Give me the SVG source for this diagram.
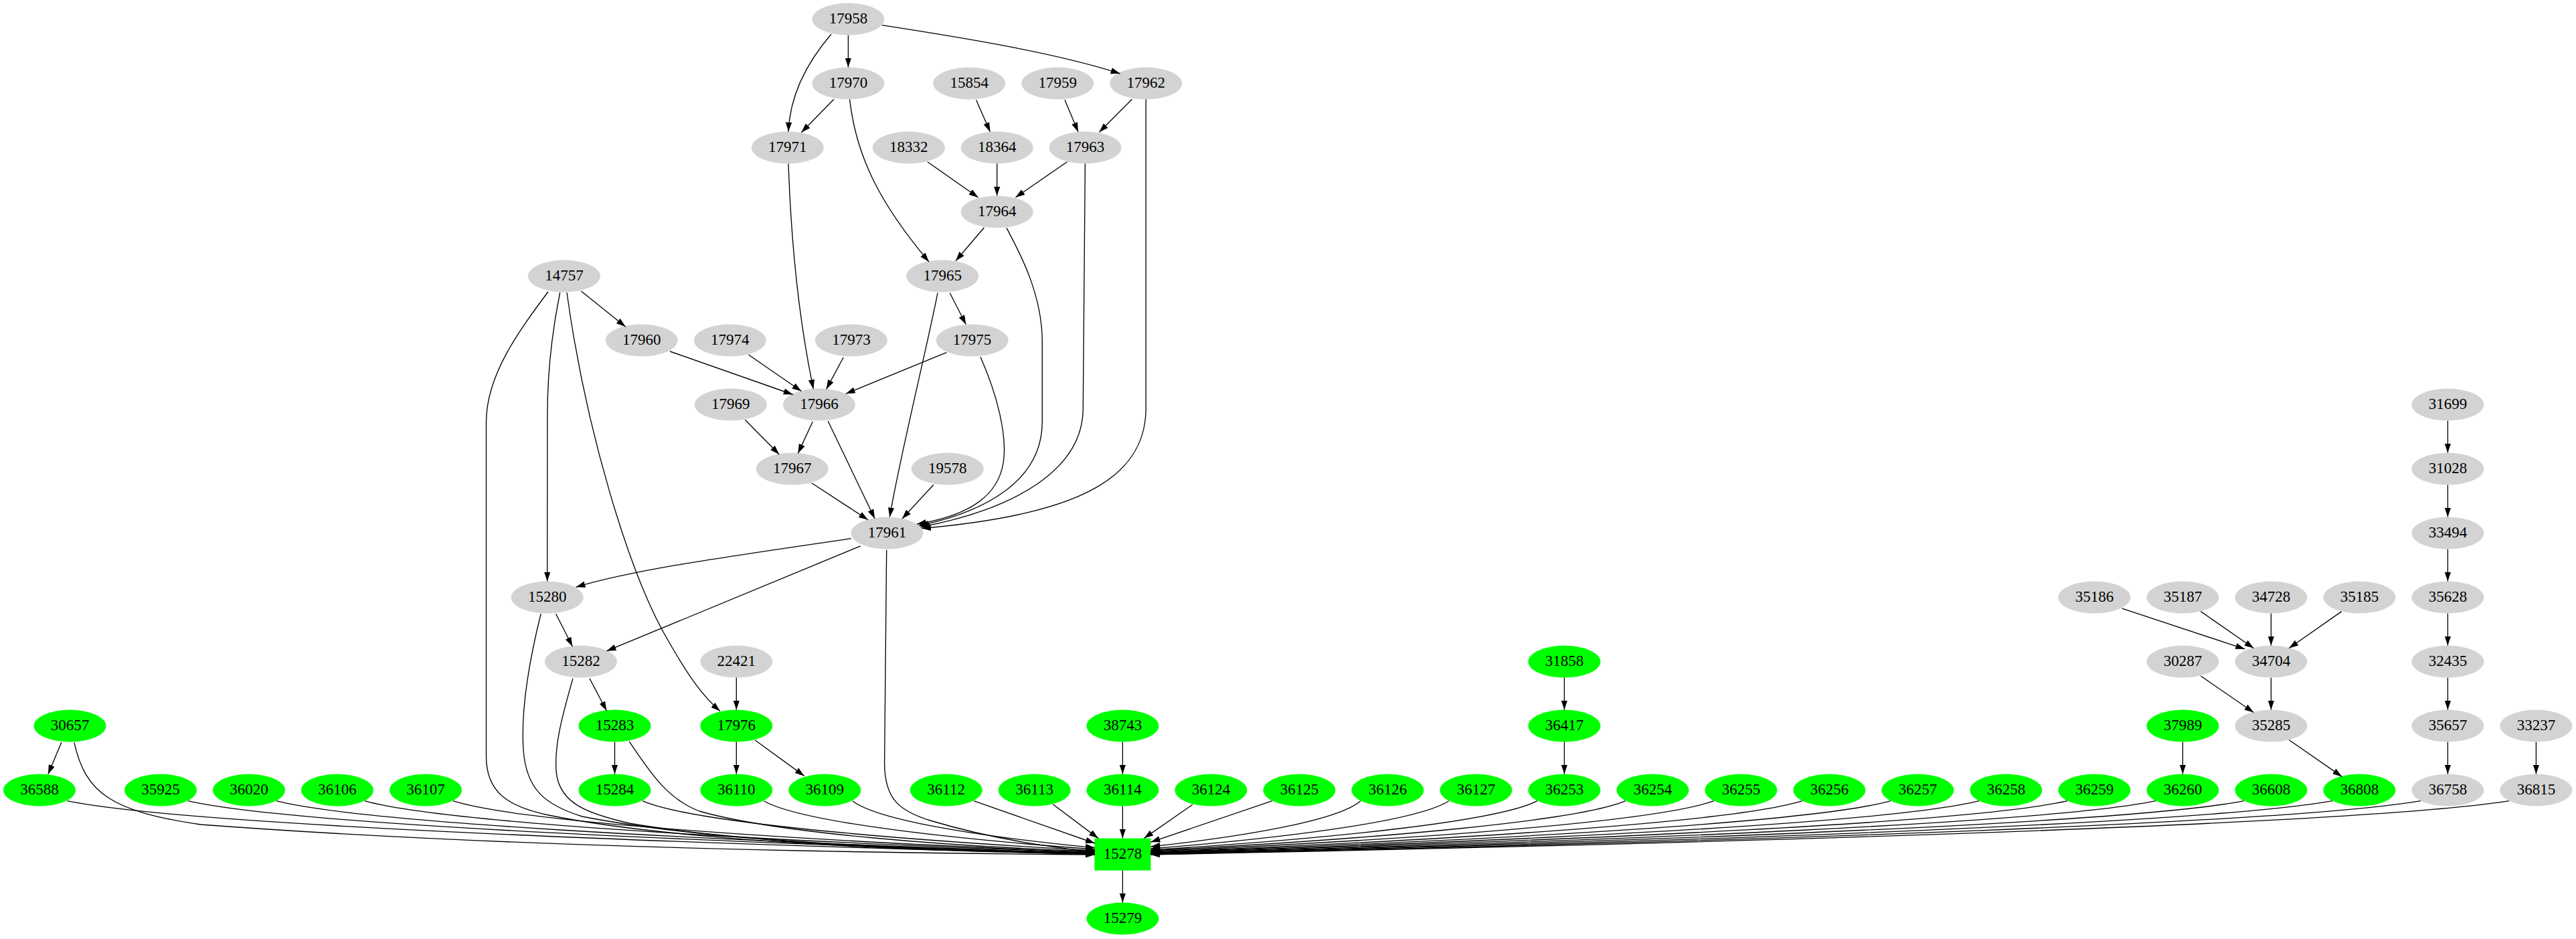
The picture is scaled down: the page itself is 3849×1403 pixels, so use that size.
<svg xmlns="http://www.w3.org/2000/svg" width="3849" height="1403" viewBox="0 0 3849 1403">
<style>
.g{fill:#d3d3d3}
.gr{fill:#00ff00}
text{font-family:"Liberation Serif","Times New Roman",serif;font-size:23px;text-anchor:middle;fill:#000}
.e{fill:none;stroke:#000;stroke-width:1.33;marker-end:url(#a)}
</style>
<defs>
<marker id="a" markerUnits="userSpaceOnUse" markerWidth="14" markerHeight="10" refX="14" refY="5" orient="auto" viewBox="0 0 14 10"><path d="M0,0.3 L14,5 L0,9.7 z" fill="#000"/></marker>
</defs>
<rect x="0" y="0" width="3849" height="1403" fill="#fff"/>
<g id="nodes">
<g id="n17958"><ellipse class="g" cx="1267.4" cy="28.6" rx="54" ry="24"/><text x="1267.4" y="35.1">17958</text></g>
<g id="n17970"><ellipse class="g" cx="1267.4" cy="124.6" rx="54" ry="24"/><text x="1267.4" y="131.1">17970</text></g>
<g id="n15854"><ellipse class="g" cx="1448.2" cy="124.6" rx="54" ry="24"/><text x="1448.2" y="131.1">15854</text></g>
<g id="n17959"><ellipse class="g" cx="1580.2" cy="124.6" rx="54" ry="24"/><text x="1580.2" y="131.1">17959</text></g>
<g id="n17962"><ellipse class="g" cx="1712.2" cy="124.6" rx="54" ry="24"/><text x="1712.2" y="131.1">17962</text></g>
<g id="n17971"><ellipse class="g" cx="1176.8" cy="220.6" rx="54" ry="24"/><text x="1176.8" y="227.1">17971</text></g>
<g id="n18332"><ellipse class="g" cx="1357.8" cy="220.6" rx="54" ry="24"/><text x="1357.8" y="227.1">18332</text></g>
<g id="n18364"><ellipse class="g" cx="1489.7" cy="220.6" rx="54" ry="24"/><text x="1489.7" y="227.1">18364</text></g>
<g id="n17963"><ellipse class="g" cx="1621.6" cy="220.6" rx="54" ry="24"/><text x="1621.6" y="227.1">17963</text></g>
<g id="n17964"><ellipse class="g" cx="1489.7" cy="316.6" rx="54" ry="24"/><text x="1489.7" y="323.1">17964</text></g>
<g id="n14757"><ellipse class="g" cx="842.9" cy="412.6" rx="54" ry="24"/><text x="842.9" y="419.1">14757</text></g>
<g id="n17965"><ellipse class="g" cx="1408.2" cy="412.6" rx="54" ry="24"/><text x="1408.2" y="419.1">17965</text></g>
<g id="n17960"><ellipse class="g" cx="958.7" cy="508.6" rx="54" ry="24"/><text x="958.7" y="515.1">17960</text></g>
<g id="n17974"><ellipse class="g" cx="1090.8" cy="508.6" rx="54" ry="24"/><text x="1090.8" y="515.1">17974</text></g>
<g id="n17973"><ellipse class="g" cx="1271.9" cy="508.6" rx="54" ry="24"/><text x="1271.9" y="515.1">17973</text></g>
<g id="n17975"><ellipse class="g" cx="1452.6" cy="508.6" rx="54" ry="24"/><text x="1452.6" y="515.1">17975</text></g>
<g id="n17969"><ellipse class="g" cx="1091.8" cy="604.6" rx="54" ry="24"/><text x="1091.8" y="611.1">17969</text></g>
<g id="n17966"><ellipse class="g" cx="1224" cy="604.6" rx="54" ry="24"/><text x="1224" y="611.1">17966</text></g>
<g id="n31699"><ellipse class="g" cx="3657.4" cy="604.6" rx="54" ry="24"/><text x="3657.4" y="611.1">31699</text></g>
<g id="n17967"><ellipse class="g" cx="1183.7" cy="700.6" rx="54" ry="24"/><text x="1183.7" y="707.1">17967</text></g>
<g id="n19578"><ellipse class="g" cx="1415.8" cy="700.6" rx="54" ry="24"/><text x="1415.8" y="707.1">19578</text></g>
<g id="n31028"><ellipse class="g" cx="3657.4" cy="700.6" rx="54" ry="24"/><text x="3657.4" y="707.1">31028</text></g>
<g id="n17961"><ellipse class="g" cx="1325.4" cy="796.6" rx="54" ry="24"/><text x="1325.4" y="803.1">17961</text></g>
<g id="n33494"><ellipse class="g" cx="3657.4" cy="796.6" rx="54" ry="24"/><text x="3657.4" y="803.1">33494</text></g>
<g id="n15280"><ellipse class="g" cx="817.7" cy="892.6" rx="54" ry="24"/><text x="817.7" y="899.1">15280</text></g>
<g id="n35186"><ellipse class="g" cx="3129.4" cy="892.6" rx="54" ry="24"/><text x="3129.4" y="899.1">35186</text></g>
<g id="n35187"><ellipse class="g" cx="3261.4" cy="892.6" rx="54" ry="24"/><text x="3261.4" y="899.1">35187</text></g>
<g id="n34728"><ellipse class="g" cx="3393.4" cy="892.6" rx="54" ry="24"/><text x="3393.4" y="899.1">34728</text></g>
<g id="n35185"><ellipse class="g" cx="3525.4" cy="892.6" rx="54" ry="24"/><text x="3525.4" y="899.1">35185</text></g>
<g id="n35628"><ellipse class="g" cx="3657.4" cy="892.6" rx="54" ry="24"/><text x="3657.4" y="899.1">35628</text></g>
<g id="n15282"><ellipse class="g" cx="868" cy="988.6" rx="54" ry="24"/><text x="868" y="995.1">15282</text></g>
<g id="n22421"><ellipse class="g" cx="1100.3" cy="988.6" rx="54" ry="24"/><text x="1100.3" y="995.1">22421</text></g>
<g id="n31858"><ellipse class="gr" cx="2337.4" cy="988.6" rx="54" ry="24"/><text x="2337.4" y="995.1">31858</text></g>
<g id="n30287"><ellipse class="g" cx="3261.4" cy="988.6" rx="54" ry="24"/><text x="3261.4" y="995.1">30287</text></g>
<g id="n34704"><ellipse class="g" cx="3393.4" cy="988.6" rx="54" ry="24"/><text x="3393.4" y="995.1">34704</text></g>
<g id="n32435"><ellipse class="g" cx="3657.4" cy="988.6" rx="54" ry="24"/><text x="3657.4" y="995.1">32435</text></g>
<g id="n30657"><ellipse class="gr" cx="104.5" cy="1084.6" rx="54" ry="24"/><text x="104.5" y="1091.1">30657</text></g>
<g id="n15283"><ellipse class="gr" cx="918.5" cy="1084.6" rx="54" ry="24"/><text x="918.5" y="1091.1">15283</text></g>
<g id="n17976"><ellipse class="gr" cx="1100.3" cy="1084.6" rx="54" ry="24"/><text x="1100.3" y="1091.1">17976</text></g>
<g id="n38743"><ellipse class="gr" cx="1677.4" cy="1084.6" rx="54" ry="24"/><text x="1677.4" y="1091.1">38743</text></g>
<g id="n36417"><ellipse class="gr" cx="2337.4" cy="1084.6" rx="54" ry="24"/><text x="2337.4" y="1091.1">36417</text></g>
<g id="n37989"><ellipse class="gr" cx="3261.4" cy="1084.6" rx="54" ry="24"/><text x="3261.4" y="1091.1">37989</text></g>
<g id="n35285"><ellipse class="g" cx="3393.4" cy="1084.6" rx="54" ry="24"/><text x="3393.4" y="1091.1">35285</text></g>
<g id="n35657"><ellipse class="g" cx="3657.4" cy="1084.6" rx="54" ry="24"/><text x="3657.4" y="1091.1">35657</text></g>
<g id="n33237"><ellipse class="g" cx="3789.4" cy="1084.6" rx="54" ry="24"/><text x="3789.4" y="1091.1">33237</text></g>
<g id="n36588"><ellipse class="gr" cx="59" cy="1180.6" rx="54" ry="24"/><text x="59" y="1187.1">36588</text></g>
<g id="n35925"><ellipse class="gr" cx="240" cy="1180.6" rx="54" ry="24"/><text x="240" y="1187.1">35925</text></g>
<g id="n36020"><ellipse class="gr" cx="372" cy="1180.6" rx="54" ry="24"/><text x="372" y="1187.1">36020</text></g>
<g id="n36106"><ellipse class="gr" cx="504" cy="1180.6" rx="54" ry="24"/><text x="504" y="1187.1">36106</text></g>
<g id="n36107"><ellipse class="gr" cx="636" cy="1180.6" rx="54" ry="24"/><text x="636" y="1187.1">36107</text></g>
<g id="n15284"><ellipse class="gr" cx="918.5" cy="1180.6" rx="54" ry="24"/><text x="918.5" y="1187.1">15284</text></g>
<g id="n36110"><ellipse class="gr" cx="1100.3" cy="1180.6" rx="54" ry="24"/><text x="1100.3" y="1187.1">36110</text></g>
<g id="n36109"><ellipse class="gr" cx="1232.3" cy="1180.6" rx="54" ry="24"/><text x="1232.3" y="1187.1">36109</text></g>
<g id="n36112"><ellipse class="gr" cx="1413.7" cy="1180.6" rx="54" ry="24"/><text x="1413.7" y="1187.1">36112</text></g>
<g id="n36113"><ellipse class="gr" cx="1545.7" cy="1180.6" rx="54" ry="24"/><text x="1545.7" y="1187.1">36113</text></g>
<g id="n36114"><ellipse class="gr" cx="1677.4" cy="1180.6" rx="54" ry="24"/><text x="1677.4" y="1187.1">36114</text></g>
<g id="n36124"><ellipse class="gr" cx="1809.4" cy="1180.6" rx="54" ry="24"/><text x="1809.4" y="1187.1">36124</text></g>
<g id="n36125"><ellipse class="gr" cx="1941.4" cy="1180.6" rx="54" ry="24"/><text x="1941.4" y="1187.1">36125</text></g>
<g id="n36126"><ellipse class="gr" cx="2073.4" cy="1180.6" rx="54" ry="24"/><text x="2073.4" y="1187.1">36126</text></g>
<g id="n36127"><ellipse class="gr" cx="2205.4" cy="1180.6" rx="54" ry="24"/><text x="2205.4" y="1187.1">36127</text></g>
<g id="n36253"><ellipse class="gr" cx="2337.4" cy="1180.6" rx="54" ry="24"/><text x="2337.4" y="1187.1">36253</text></g>
<g id="n36254"><ellipse class="gr" cx="2469.4" cy="1180.6" rx="54" ry="24"/><text x="2469.4" y="1187.1">36254</text></g>
<g id="n36255"><ellipse class="gr" cx="2601.4" cy="1180.6" rx="54" ry="24"/><text x="2601.4" y="1187.1">36255</text></g>
<g id="n36256"><ellipse class="gr" cx="2733.4" cy="1180.6" rx="54" ry="24"/><text x="2733.4" y="1187.1">36256</text></g>
<g id="n36257"><ellipse class="gr" cx="2865.4" cy="1180.6" rx="54" ry="24"/><text x="2865.4" y="1187.1">36257</text></g>
<g id="n36258"><ellipse class="gr" cx="2997.4" cy="1180.6" rx="54" ry="24"/><text x="2997.4" y="1187.1">36258</text></g>
<g id="n36259"><ellipse class="gr" cx="3129.4" cy="1180.6" rx="54" ry="24"/><text x="3129.4" y="1187.1">36259</text></g>
<g id="n36260"><ellipse class="gr" cx="3261.4" cy="1180.6" rx="54" ry="24"/><text x="3261.4" y="1187.1">36260</text></g>
<g id="n36608"><ellipse class="gr" cx="3393.4" cy="1180.6" rx="54" ry="24"/><text x="3393.4" y="1187.1">36608</text></g>
<g id="n36808"><ellipse class="gr" cx="3525.4" cy="1180.6" rx="54" ry="24"/><text x="3525.4" y="1187.1">36808</text></g>
<g id="n36758"><ellipse class="g" cx="3657.4" cy="1180.6" rx="54" ry="24"/><text x="3657.4" y="1187.1">36758</text></g>
<g id="n36815"><ellipse class="g" cx="3789.4" cy="1180.6" rx="54" ry="24"/><text x="3789.4" y="1187.1">36815</text></g>
<g id="n15278"><rect class="gr" x="1635.4" y="1252.6" width="84" height="48"/><text x="1677.4" y="1283.1">15278</text></g>
<g id="n15279"><ellipse class="gr" cx="1677.4" cy="1372.6" rx="54" ry="24"/><text x="1677.4" y="1379.1">15279</text></g>
</g>
<g id="edges">
<path class="e" d="M1267.4,52.6 L1267.4,100.6"/>
<path class="e" d="M1242,51 C1200,100 1180,150 1178,196.6"/>
<path class="e" d="M1317.9,37.7 C1450,58 1580,80 1673.7,110"/>
<path class="e" d="M1246,148.3 L1197.3,198"/>
<path class="e" d="M1269.6,148.6 C1280,240 1320,310 1388,391.2"/>
<path class="e" d="M1458.5,149.3 L1479.5,197"/>
<path class="e" d="M1591,149.3 L1611,197"/>
<path class="e" d="M1691.5,148.3 L1642.4,197.5"/>
<path class="e" d="M1712.2,148.6 L1712.2,610 C1712.2,720 1600,770 1377,789.5"/>
<path class="e" d="M1621.4,244.6 L1618.3,610 C1618.3,700 1520,760 1375.4,787.5"/>
<path class="e" d="M1504,340.6 C1525,380 1557,440 1557.3,510 L1557.3,630 C1557.3,720 1470,765 1373.3,785.5"/>
<path class="e" d="M1401,437.7 C1385,520 1345,680 1329.3,772.6"/>
<path class="e" d="M1419.3,437.7 L1443.3,484.8"/>
<path class="e" d="M1465,533.3 C1490,590 1505,650 1499.3,690 C1492,740 1450,770 1370,783"/>
<path class="e" d="M1385.7,241.7 L1461.6,295"/>
<path class="e" d="M1489.7,244.6 L1489.7,292.6"/>
<path class="e" d="M1594.6,241.7 L1517.4,295"/>
<path class="e" d="M1470.5,340 L1428,389.8"/>
<path class="e" d="M1178,244.6 C1182,360 1192,470 1215.3,581.2"/>
<path class="e" d="M868.4,435 L934.7,488.3"/>
<path class="e" d="M1001,525 L1184.7,589.5"/>
<path class="e" d="M1118.4,530 L1197.4,584.5"/>
<path class="e" d="M1260.2,534 L1234.7,581.4"/>
<path class="e" d="M1414.3,526.7 L1263.8,588.3"/>
<path class="e" d="M1113.3,627.3 L1164.3,679"/>
<path class="e" d="M1214.3,630 L1192.3,677.4"/>
<path class="e" d="M1237.2,629.3 L1307.1,775"/>
<path class="e" d="M1212.8,721.7 L1297,776.7"/>
<path class="e" d="M1394.9,724.3 L1348,775"/>
<path class="e" d="M818.9,436 C775,495 727,560 726.5,630 L726.5,1130 C726.5,1185 760,1205 820,1218 C1000,1255 1350,1272 1636,1276"/>
<path class="e" d="M836.7,437 C828,480 818,540 817.9,620 L817.7,868.6"/>
<path class="e" d="M847,437 C875,640 940,860 1000,960 C1030,1012 1050,1040 1076,1062.5"/>
<path class="e" d="M1271.8,804.6 C1100,830 950,850 860.5,877.3"/>
<path class="e" d="M1285.8,815.8 L906.4,972.7"/>
<path class="e" d="M1324.7,821.7 L1321.6,1140 C1321.6,1195 1345,1212 1390,1226 C1470,1250 1560,1265 1636,1273"/>
<path class="e" d="M830.5,917 L855.4,966"/>
<path class="e" d="M808.2,917 C790,990 778,1060 782,1120 C786,1180 815,1203 870,1220 C1050,1255 1350,1272 1636,1275"/>
<path class="e" d="M880.9,1013.6 L906.4,1062"/>
<path class="e" d="M856,1013.6 C840,1070 826,1120 832,1160 C840,1200 875,1215 940,1230 C1100,1258 1400,1271 1636,1274.5"/>
<path class="e" d="M1100.3,1012.6 L1100.3,1060.6"/>
<path class="e" d="M918.5,1108.6 L918.5,1156.6"/>
<path class="e" d="M940.2,1107.8 C975,1160 1000,1195 1045,1212 C1160,1245 1420,1265 1636,1272"/>
<path class="e" d="M1100.3,1108.6 L1100.3,1156.6"/>
<path class="e" d="M1128,1105.8 L1201.7,1159.4"/>
<path class="e" d="M91.8,1109.3 L71.8,1156.7"/>
<path class="e" d="M110.8,1109.3 C128,1185 165,1212 300,1232 C700,1262 1200,1274 1636,1277"/>
<path class="e" d="M1677.4,1108.6 L1677.4,1156.6"/>
<path class="e" d="M2337.4,1012.6 L2337.4,1060.6"/>
<path class="e" d="M2337.4,1108.6 L2337.4,1156.6"/>
<path class="e" d="M3261.4,1108.6 L3261.4,1156.6"/>
<path class="e" d="M3170.8,909.1 L3354.2,969.8"/>
<path class="e" d="M3288.3,913.6 L3367.4,968.5"/>
<path class="e" d="M3393.4,916.6 L3393.4,964.6"/>
<path class="e" d="M3498.7,913.6 L3420.2,968.5"/>
<path class="e" d="M3288.3,1010 L3367.4,1064.5"/>
<path class="e" d="M3393.4,1012.6 L3393.4,1060.6"/>
<path class="e" d="M3420.2,1105.5 L3499.3,1160.4"/>
<path class="e" d="M3657.4,628.6 L3657.4,676.6"/>
<path class="e" d="M3657.4,724.6 L3657.4,772.6"/>
<path class="e" d="M3657.4,820.6 L3657.4,868.6"/>
<path class="e" d="M3657.4,916.6 L3657.4,964.6"/>
<path class="e" d="M3657.4,1012.6 L3657.4,1060.6"/>
<path class="e" d="M3657.4,1108.6 L3657.4,1156.6"/>
<path class="e" d="M3789.4,1108.6 L3789.4,1156.6"/>
<path class="e" d="M100.5,1196.7 C254.1,1228.6 868.3,1256.6 1636,1276.5"/>
<path class="e" d="M281,1196.7 C416.5,1228.2 958.5,1255.8 1636,1275.5"/>
<path class="e" d="M413,1196.7 C535.3,1228 1024.5,1255.4 1636,1275"/>
<path class="e" d="M545,1196.7 C654.1,1227.6 1090.5,1254.7 1636,1274"/>
<path class="e" d="M677,1196.7 C772.9,1227.4 1156.5,1254.3 1636,1273.5"/>
<path class="e" d="M960,1196.7 C1027.6,1226.4 1298,1252.4 1636,1271"/>
<path class="e" d="M1141.5,1196.7 C1191,1225.6 1388.8,1250.9 1636,1269"/>
<path class="e" d="M1273.8,1196.7 C1310,1224.7 1454.9,1249.2 1636,1266.7"/>
<path class="e" d="M1455,1196.7 L1636,1260"/>
<path class="e" d="M1573.3,1201.7 L1641,1252.6"/>
<path class="e" d="M1677.4,1204.6 L1677.4,1252.6"/>
<path class="e" d="M1781.7,1202.3 L1709.3,1252.6"/>
<path class="e" d="M1900.9,1196.7 L1719.4,1258.3"/>
<path class="e" d="M2032.9,1196.7 C2001.5,1224 1876.2,1247.9 1719.4,1265"/>
<path class="e" d="M2164.9,1196.7 C2120.4,1225.2 1942.2,1250.2 1719.4,1268"/>
<path class="e" d="M2296.9,1196.7 C2239.2,1226 2008.2,1251.7 1719.4,1270"/>
<path class="e" d="M2428.9,1196.7 C2357.9,1226.4 2074.2,1252.4 1719.4,1271"/>
<path class="e" d="M2560.9,1196.7 C2476.8,1226.8 2140.2,1253.2 1719.4,1272"/>
<path class="e" d="M2692.9,1196.7 C2595.6,1227.2 2206.2,1253.9 1719.4,1273"/>
<path class="e" d="M2824.9,1196.7 C2714.4,1227.4 2272.2,1254.3 1719.4,1273.5"/>
<path class="e" d="M2956.9,1196.7 C2833.2,1227.6 2338.2,1254.7 1719.4,1274"/>
<path class="e" d="M3088.9,1196.7 C2952,1227.8 2404.2,1255 1719.4,1274.5"/>
<path class="e" d="M3220.9,1196.7 C3070.8,1228 2470.2,1255.4 1719.4,1275"/>
<path class="e" d="M3352.9,1196.7 C3189.6,1228.2 2536.2,1255.8 1719.4,1275.5"/>
<path class="e" d="M3484.9,1196.7 C3308.4,1228.4 2602.2,1256.2 1719.4,1276"/>
<path class="e" d="M3616.9,1196.7 C3427.2,1228.6 2668.2,1256.6 1719.4,1276.5"/>
<path class="e" d="M3748.9,1196.7 C3546,1228.8 2734.2,1256.9 1719.4,1277"/>
<path class="e" d="M1677.4,1300.6 L1677.4,1348.6"/>
</g>
</svg>
